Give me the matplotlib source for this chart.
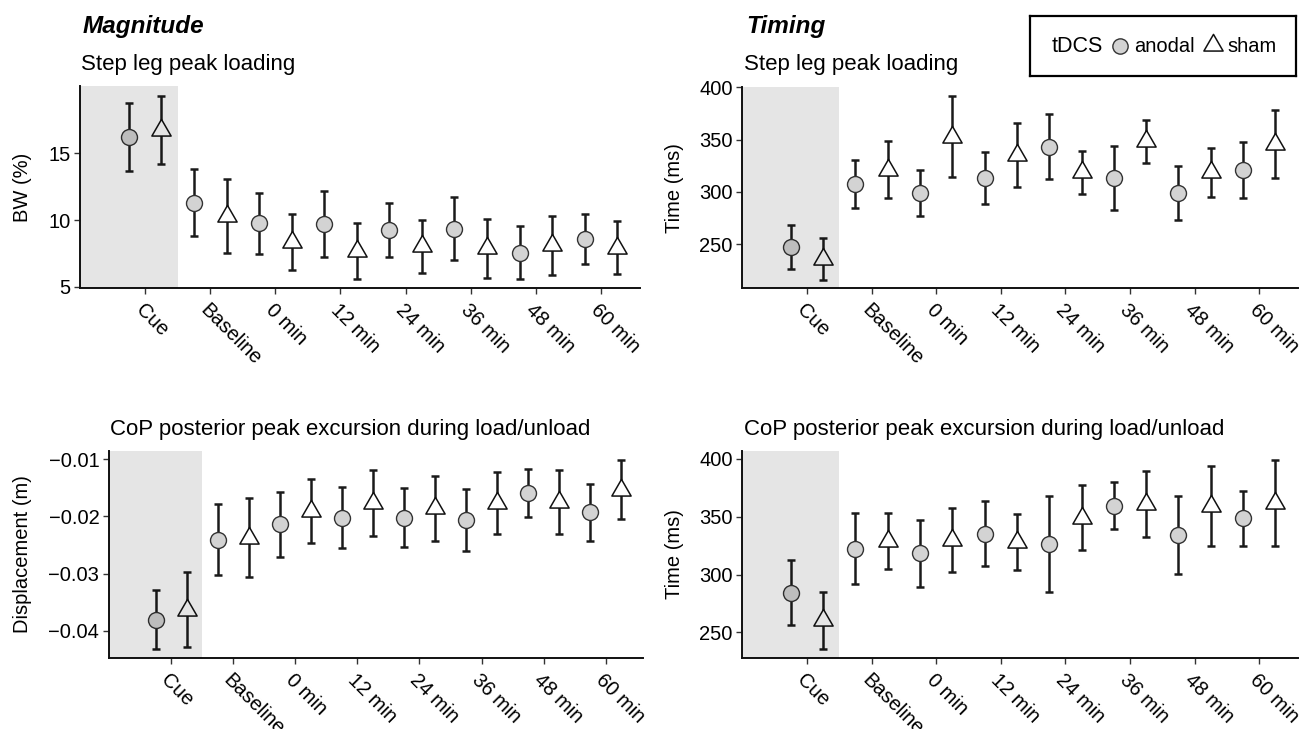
import numpy as np
import matplotlib
matplotlib.use("Agg")
import matplotlib.pyplot as plt
from matplotlib.path import Path

plt.rcParams['font.family'] = ['Liberation Sans', 'DejaVu Sans']

# ---- data: group means and half error-bar lengths ----
categories = ["Cue", "Baseline", "0 min", "12 min", "24 min", "36 min", "48 min", "60 min"]

# Magnitude: step leg peak loading, BW (%)
mag_load_anodal = [16.23, 11.31, 9.77, 9.70, 9.23, 9.35, 7.56, 8.58]
mag_load_anodal_err = [2.56, 2.49, 2.29, 2.45, 2.03, 2.35, 2.02, 1.88]
mag_load_sham = [16.78, 10.31, 8.34, 7.69, 8.03, 7.88, 8.09, 7.93]
mag_load_sham_err = [2.55, 2.79, 2.11, 2.11, 1.98, 2.20, 2.19, 1.98]

# Timing: step leg peak loading, ms
tim_load_anodal = [247.5, 307.5, 299.2, 313.3, 343.4, 313.3, 298.9, 320.8]
tim_load_anodal_err = [21.4, 23.1, 22.1, 25.0, 30.9, 30.7, 26.0, 26.8]
tim_load_sham = [236.4, 321.4, 353.0, 335.0, 318.8, 348.3, 318.8, 345.7]
tim_load_sham_err = [20.0, 27.1, 39.0, 30.6, 20.7, 20.9, 23.6, 32.7]

# Magnitude: CoP posterior peak excursion, m
mag_cop_anodal = [-0.0381, -0.0241, -0.0214, -0.0202, -0.0202, -0.0206, -0.0159, -0.0193]
mag_cop_anodal_err = [0.00514, 0.00619, 0.00572, 0.00529, 0.00510, 0.00540, 0.00418, 0.00493]
mag_cop_sham = [-0.0363, -0.0237, -0.0190, -0.0176, -0.0186, -0.0177, -0.0175, -0.0153]
mag_cop_sham_err = [0.00660, 0.00698, 0.00558, 0.00581, 0.00572, 0.00546, 0.00560, 0.00514]

# Timing: CoP posterior peak excursion, ms
tim_cop_anodal = [284.3, 322.2, 318.2, 335.3, 326.5, 359.5, 334.4, 348.8]
tim_cop_anodal_err = [28.3, 30.8, 29.3, 28.2, 41.3, 20.4, 33.6, 23.8]
tim_cop_sham = [260.4, 329.2, 329.9, 328.0, 349.2, 361.1, 359.6, 361.8]
tim_cop_sham_err = [24.8, 24.1, 27.7, 24.4, 28.0, 28.9, 34.6, 37.4]

mag_load_ticks = [5, 10, 15]
tim_ticks = [250, 300, 350, 400]
mag_cop_ticks = [-0.04, -0.03, -0.02, -0.01]
mag_cop_ticklabels = ["\u22120.04", "\u22120.03", "\u22120.02", "\u22120.01"]

# ---- figure ----
W, H = 1299, 729
fig = plt.figure(figsize=(W / 100, H / 100), dpi=100)


def rect(x0, x1, y0, y1):
    # pixel box (y from top) -> figure fraction
    return [x0 / W, 1 - y1 / H, (x1 - x0) / W, (y1 - y0) / H]


# equilateral triangle centred on its centroid (like R's pch 24)
tri = Path([(0, 1), (-0.866, -0.5), (0.866, -0.5), (0, 1)],
           [Path.MOVETO, Path.LINETO, Path.LINETO, Path.CLOSEPOLY])

FS = 14.5
circle_fill = "#d3d3d3"


def panel(box, anodal, anodal_err, sham, sham_err, ylim, ticks, ticklabels=None):
    ax = fig.add_axes(rect(*box))
    x = np.arange(1, len(categories) + 1)
    ax.errorbar(x - 0.25, anodal, yerr=anodal_err, fmt='none', ecolor='#1a1a1a',
                elinewidth=1.8, capsize=2.6, capthick=1.8, zorder=2)
    ax.errorbar(x + 0.25, sham, yerr=sham_err, fmt='none', ecolor='#1a1a1a',
                elinewidth=1.8, capsize=2.6, capthick=1.8, zorder=2)
    ax.plot(x - 0.25, anodal, 'o', ms=11.5, mfc=circle_fill, mec='#333333', mew=1.0,
            linestyle='none', zorder=3)
    ax.plot(x + 0.25, sham, marker=tri, ms=16, mfc='white', mec='#111111', mew=1.1,
            linestyle='none', zorder=3)
    # cue shading drawn over the marks, as in the original
    ax.axvspan(0, 1.5, color='black', alpha=0.1, lw=0, zorder=4)
    ax.set_xlim(0, 8.6)
    ax.set_ylim(*ylim)
    ax.set_xticks(x)
    ax.set_xticklabels(categories, rotation=-45, ha='left', va='top',
                       rotation_mode='anchor', fontsize=FS)
    ax.set_yticks(ticks)
    if ticklabels is not None:
        ax.set_yticklabels(ticklabels)
    ax.tick_params(axis='both', labelsize=FS, length=4, width=1.0, color='#333333',
                   pad=3)
    ax.tick_params(axis='x', pad=5)
    for s in ['top', 'right']:
        ax.spines[s].set_visible(False)
    for s in ['left', 'bottom']:
        ax.spines[s].set_linewidth(1.4)
        ax.spines[s].set_color('#111111')
    return ax


panel((80, 640, 86, 288.3), mag_load_anodal, mag_load_anodal_err,
      mag_load_sham, mag_load_sham_err, (4.88, 20.05), mag_load_ticks)
panel((742.3, 1298, 87, 288.3), tim_load_anodal, tim_load_anodal_err,
      tim_load_sham, tim_load_sham_err, (208, 400.3), tim_ticks)
panel((109, 643, 451, 657.7), mag_cop_anodal, mag_cop_anodal_err,
      mag_cop_sham, mag_cop_sham_err, (-0.04473, -0.00855), mag_cop_ticks,
      mag_cop_ticklabels)
panel((742.3, 1298, 451, 657.7), tim_cop_anodal, tim_cop_anodal_err,
      tim_cop_sham, tim_cop_sham_err, (228, 406.9), tim_ticks)

# headings and panel titles
fig.text(83 / W, 1 - 33 / H, "Magnitude", fontsize=17.5, fontweight='bold',
         fontstyle='italic', va='baseline')
fig.text(746 / W, 1 - 33 / H, "Timing", fontsize=17.5, fontweight='bold',
         fontstyle='italic', va='baseline')
fig.text(81 / W, 1 - 70 / H, "Step leg peak loading", fontsize=16, va='baseline')
fig.text(744 / W, 1 - 70 / H, "Step leg peak loading", fontsize=16, va='baseline')
fig.text(110 / W, 1 - 435 / H, "CoP posterior peak excursion during load/unload",
         fontsize=16, va='baseline')
fig.text(744 / W, 1 - 435 / H, "CoP posterior peak excursion during load/unload",
         fontsize=16, va='baseline')

# y axis titles
fig.text(23 / W, 1 - 187 / H, "BW (%)", rotation=90, ha='center', va='center', fontsize=FS)
fig.text(674 / W, 1 - 188 / H, "Time (ms)", rotation=90, ha='center', va='center', fontsize=FS)
fig.text(23 / W, 1 - 554 / H, "Displacement (m)", rotation=90, ha='center', va='center',
         fontsize=FS)
fig.text(674 / W, 1 - 554 / H, "Time (ms)", rotation=90, ha='center', va='center', fontsize=FS)

# legend box
lax = fig.add_axes(rect(1030, 1296, 16, 76))
lax.set_xlim(0, 266)
lax.set_ylim(0, 60)
lax.set_xticks([])
lax.set_yticks([])
for s in lax.spines.values():
    s.set_linewidth(1.6)
    s.set_color('black')
lax.text(22, 30, "tDCS", fontsize=15.5, va='center', ha='left')
lax.plot([90], [30], 'o', ms=11, mfc=circle_fill, mec='#333333', mew=1.0)
lax.text(104, 30, "anodal", fontsize=14.5, va='center', ha='left')
lax.plot([183], [31], marker=tri, ms=16, mfc='white', mec='#111111', mew=1.1)
lax.text(197, 30, "sham", fontsize=14.5, va='center', ha='left')

fig.savefig("out.png", dpi=100)
